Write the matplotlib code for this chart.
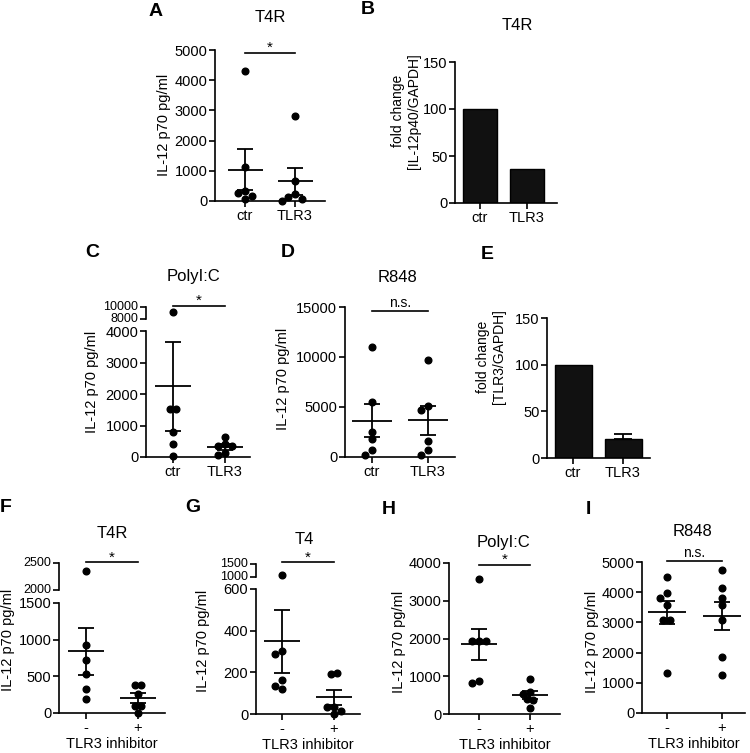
import numpy as np
import matplotlib
matplotlib.use("Agg")
import matplotlib.pyplot as plt
from matplotlib.transforms import ScaledTranslation

plt.rcParams['font.family'] = ['Liberation Sans', 'DejaVu Sans']
plt.rcParams['font.size'] = 10
plt.rcParams['axes.linewidth'] = 1.2

# data (pg/ml or fold change)
ctr_tlr3 = ['ctr', 'TLR3']
inhibitor = ['-', '+']

a_ctr = [4300, 1110, 320, 270, 160, 50]
a_tlr3 = [2815, 662, 220, 143, 55, 11]

b_fold = [100, 36]

c_ctr = [9210, 1525, 1525, 780, 420, 40]
c_tlr3 = [630, 410, 350, 350, 130, 60]

d_ctr = [11020, 5540, 2455, 1790, 730, 230]
d_tlr3 = [9690, 5110, 4710, 1560, 660, 230]

e_fold = [100, 20]
e_err = [0, 6]

f_minus = [2344, 927, 718, 530, 332, 191]
f_plus = [386, 386, 264, 91, 91, 0]

g_minus = [1088, 304, 286, 163, 134, 120]
g_plus = [198, 192, 35, 35, 16, 0]

h_minus = [3585, 1938, 1938, 1938, 880, 810]
h_plus = [916, 580, 540, 390, 380, 150]

i_minus = [4503, 3985, 3819, 3587, 3068, 3068, 1335]
i_plus = [4724, 4150, 3819, 3587, 3068, 1854, 1258]

W, H = 750, 753
fig = plt.figure(figsize=(W / 100, H / 100), dpi=100)

TICK_FS = 10.5
LAB_FS = 10.5


def rect(x0, y0, x1, y1):
    return [x0 / W, 1 - y1 / H, (x1 - x0) / W, (y1 - y0) / H]


def make_axes(x0, x1, segs, xlim, groups):
    axs = []
    for lo, hi, top, bot, ticks in segs:
        ax = fig.add_axes(rect(x0, top, x1, bot))
        ax.set_xlim(*xlim)
        ax.set_ylim(lo, hi)
        ax.set_yticks(ticks)
        ax.spines[['top', 'right']].set_visible(False)
        ax.patch.set_visible(False)
        ax.tick_params(direction='out', length=4, width=1.2, pad=1.5, labelsize=TICK_FS)
        axs.append(ax)
    # upper pieces of a broken axis: no x axis, smaller labels nudged up
    for ax in axs[:-1]:
        ax.spines['bottom'].set_visible(False)
        ax.tick_params(axis='x', bottom=False, labelbottom=False)
        ax.tick_params(axis='y', labelsize=9)
        up = ScaledTranslation(0, 1.2 / 72, fig.dpi_scale_trans)
        for lab in ax.get_yticklabels():
            lab.set_transform(lab.get_transform() + up)
    axs[-1].set_xticks(range(len(groups)), groups)
    return axs


def seg_ax(axs, segs, v):
    for ax, s in zip(axs, segs):
        if s[0] <= v <= s[1]:
            return ax
    return axs[-1]


def swarm_x(axs, segs, x, vals, diam=6.6):
    # simple beeswarm in pixel space, tied rows centred afterwards
    pts, ppus = [], []
    for v in vals:
        ax = seg_ax(axs, segs, v)
        cx0, cy = ax.transData.transform((x, v))
        ppu = ax.transData.transform((1, 0))[0] - ax.transData.transform((0, 0))[0]
        for k in [0, -1, 1, -2, 2, -3, 3]:
            if all(np.hypot(k * diam - ox, cy - oy) >= diam * 0.98 for ox, oy in pts):
                break
        pts.append((k * diam, cy))
        ppus.append(ppu)
    offs = np.array([p[0] for p in pts])
    ys = np.array([p[1] for p in pts])
    done = set()
    for i in range(len(pts)):
        if i in done:
            continue
        grp = [j for j in range(len(pts)) if abs(ys[j] - ys[i]) < 1.5]
        done.update(grp)
        if len(grp) < 2:
            continue
        trial = offs.copy()
        trial[grp] -= offs[grp].mean()
        ok = all(np.hypot(trial[a] - trial[b], ys[a] - ys[b]) >= diam * 0.9
                 for a in range(len(pts)) for b in range(a + 1, len(pts)))
        if ok:
            offs = trial
    return x + offs / np.array(ppus)


def dot_panel(x0, x1, xlim, segs, groups, series, sig_y, sig_text):
    axs = make_axes(x0, x1, segs, xlim, groups)
    for i, vals in enumerate(series):
        vals = np.asarray(vals, float)
        xs = swarm_x(axs, segs, i, vals)
        for ax, s in zip(axs, segs):
            m = (vals >= s[0]) & (vals <= s[1])
            ax.plot(xs[m], vals[m], 'o', color='black', ms=4.8, clip_on=False, zorder=3)
        mean = vals.mean()
        sem = vals.std(ddof=1) / np.sqrt(len(vals))
        ax = seg_ax(axs, segs, mean)
        ax.hlines(mean, i - 0.35, i + 0.35, color='black', lw=1.3)
        ax.errorbar(i, mean, yerr=sem, fmt='none', ecolor='black',
                    elinewidth=1.3, capsize=6, capthick=1.3)
    top = axs[0]
    top.plot([0, 1], [sig_y, sig_y], color='black', lw=1.2, clip_on=False)
    if sig_text == '*':
        top.annotate('*', (0.5, sig_y), xytext=(0, -1.5), textcoords='offset points',
                     ha='center', va='bottom', fontsize=11, annotation_clip=False)
    else:
        top.annotate(sig_text, (0.5, sig_y), xytext=(0, 1), textcoords='offset points',
                     ha='center', va='bottom', fontsize=10, annotation_clip=False)
    return axs


def bar_panel(x0, x1, xlim, top, bot, ticks, groups, vals, errs=None):
    ax = make_axes(x0, x1, [(0, 150, top, bot, ticks)], xlim, groups)[0]
    ax.bar(range(len(vals)), vals, width=0.74, color='#111111', edgecolor='black', lw=1)
    if errs is not None:
        for i, (v, e) in enumerate(zip(vals, errs)):
            if e > 0:
                ax.errorbar(i, v, yerr=[[0], [e]], fmt='none', ecolor='black',
                            elinewidth=1.3, capsize=6.5, capthick=1.3)
    return ax


def ylab(x, y, text, fs=LAB_FS):
    fig.text(x / W, 1 - y / H, text, rotation=90, ha='center', va='center',
             fontsize=fs, multialignment='center', linespacing=1.1)


def title(x, y, text):
    fig.text(x / W, 1 - y / H, text, ha='center', va='center', fontsize=12)


def letter(x, y, text):
    fig.text(x / W, 1 - y / H, text, ha='left', va='center', fontsize=14, fontweight='bold')


def inhib_label(ax):
    ax.set_xlabel('TLR3 inhibitor', fontsize=10.5, labelpad=1.5)


ylabel_txt = 'IL-12 p70 pg/ml'

# A
dot_panel(215, 325, (-0.6, 1.6), [(0, 5000, 50, 201, [0, 1000, 2000, 3000, 4000, 5000])],
          ctr_tlr3, [a_ctr, a_tlr3], 4900, '*')
ylab(164, 125, ylabel_txt)
title(270, 18, 'T4R')
letter(149, 12, 'A')

# B
bar_panel(455, 557, (-0.53, 1.64), 62, 203, [0, 50, 100, 150], ctr_tlr3, b_fold)
ylab(406, 111, 'fold change\n[IL-12p40/GAPDH]', 10)
title(517, 25, 'T4R')
letter(361, 10, 'B')

# C
dot_panel(146, 250, (-0.52, 1.48),
          [(8000, 10000, 307, 319, [8000, 10000]),
           (0, 4000, 331, 457, [0, 1000, 2000, 3000, 4000])],
          ctr_tlr3, [c_ctr, c_tlr3], 10170, '*')
ylab(92, 382, ylabel_txt)
title(193, 276, 'PolyI:C')
letter(85, 253, 'C')

# D
dot_panel(345, 455, (-0.48, 1.48), [(0, 15000, 307, 457, [0, 5000, 10000, 15000])],
          ctr_tlr3, [d_ctr, d_tlr3], 14600, 'n.s.')
ylab(283, 379, ylabel_txt)
title(398, 277, 'R848')
letter(281, 253, 'D')

# E
bar_panel(547, 650, (-0.52, 1.54), 318, 458, [0, 50, 100, 150], ctr_tlr3, e_fold, e_err)
ylab(491, 357, 'fold change\n[TLR3/GAPDH]', 10)
letter(481, 255, 'E')

# F
axs = dot_panel(59, 165, (-0.52, 1.52),
                [(2000, 2500, 563, 590, [2000, 2500]),
                 (0, 1500, 603, 713, [0, 500, 1000, 1500])],
                inhibitor, [f_minus, f_plus], 2510, '*')
inhib_label(axs[-1])
ylab(8, 640, ylabel_txt)
title(112, 534, 'T4R')
letter(0, 508, 'F')

# G
axs = dot_panel(256, 360, (-0.5, 1.5),
                [(1000, 1500, 564, 577, [1000, 1500]),
                 (0, 600, 589, 714, [0, 200, 400, 600])],
                inhibitor, [g_minus, g_plus], 1560, '*')
inhib_label(axs[-1])
ylab(203, 641, ylabel_txt)
title(304, 539, 'T4')
letter(185, 508, 'G')

# H
axs = dot_panel(449, 560, (-0.59, 1.59), [(0, 4000, 563, 714, [0, 1000, 2000, 3000, 4000])],
                inhibitor, [h_minus, h_plus], 3960, '*')
inhib_label(axs[-1])
ylab(399, 642, ylabel_txt)
title(503, 542, 'PolyI:C')
letter(382, 510, 'H')

# I
axs = dot_panel(642, 745, (-0.45, 1.42),
                [(0, 5000, 562, 713, [0, 1000, 2000, 3000, 4000, 5000])],
                inhibitor, [i_minus, i_plus], 5030, 'n.s.')
inhib_label(axs[-1])
ylab(592, 642, ylabel_txt)
title(693, 531, 'R848')
letter(586, 510, 'I')

fig.savefig('out.png', dpi=100)
